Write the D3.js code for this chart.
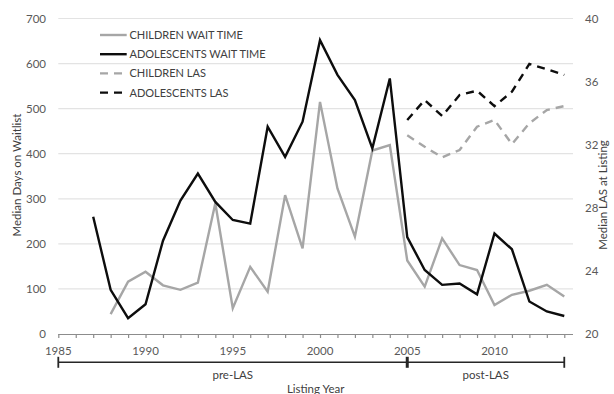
<!DOCTYPE html>
<html><head><meta charset="utf-8">
<script src="https://cdn.jsdelivr.net/npm/d3@7"></script>
<style>body{margin:0;background:#fff}svg{display:block}text{font-family:Lato,"Open Sans",sans-serif}</style>
</head><body><svg id="c" width="614" height="394"></svg>
<script>
const childWaitYears = [1988,1989,1990,1991,1992,1993,1994,1995,1996,1997,1998,1999,2000,2001,2002,2003,2004,2005,2006,2007,2008,2009,2010,2011,2012,2013,2014];
const childWait = [44,116,138,108,98,114,290,57,149,94,308,190,515,323,216,407,419,163,105,212,153,142,64,87,96,109,83];
const adolWaitYears = [1987,1988,1989,1990,1991,1992,1993,1994,1995,1996,1997,1998,1999,2000,2001,2002,2003,2004,2005,2006,2007,2008,2009,2010,2011,2012,2013,2014];
const adolWait = [260,98,35,66,207,296,356,293,253,245,460,393,471,652,575,519,412,567,215,142,109,112,88,223,188,72,50,40];
const lasYears = [2005,2006,2007,2008,2009,2010,2011,2012,2013,2014];
const childLAS = [32.6,31.87,31.2,31.66,33.14,33.57,32.04,33.36,34.2,34.45];
const adolLAS = [33.57,34.83,33.82,35.15,35.42,34.45,35.36,37.12,36.78,36.42];
const leftTicks = [0,100,200,300,400,500,600,700];
const rightTicks = [20,24,28,32,36,40];
const xTickLabels = [1985,1990,1995,2000,2005,2010];
const legendLabels = ["CHILDREN WAIT TIME","ADOLESCENTS WAIT TIME","CHILDREN LAS","ADOLESCENTS LAS"];
const periods = [{label:"pre-LAS",from:1985,to:2005},{label:"post-LAS",from:2005,to:2014}];

const svg = d3.select("#c");
const x = d3.scaleLinear().domain([1985,2014.5]).range([58.3,573]);
const yL = d3.scaleLinear().domain([0,700]).range([334,18.5]);
const yR = d3.scaleLinear().domain([20,40]).range([334,18.5]);
const gray="#a6a6a6", black="#0d0d0d", tcol="#595959";

// gridlines
svg.append("g").selectAll("line").data(leftTicks.filter(d=>d>0)).join("line")
  .attr("x1",x(1985)).attr("x2",x(2014.5)).attr("y1",d=>yL(d)).attr("y2",d=>yL(d))
  .attr("stroke","#e3e3e3").attr("stroke-width",1.2);

// left axis labels
svg.append("g").selectAll("text").data(leftTicks).join("text")
  .attr("x",46).attr("y",d=>yL(d)+4).attr("text-anchor","end")
  .attr("font-size",11.5).attr("fill",tcol).text(d=>d);
// right axis labels
svg.append("g").selectAll("text").data(rightTicks).join("text")
  .attr("x",585).attr("y",d=>yR(d)+4).attr("text-anchor","start")
  .attr("font-size",11.5).attr("fill",tcol).text(d=>d);

// x axis
const xAxis = d3.axisBottom(x).tickValues(d3.range(1985,2015)).tickSize(4).tickFormat("");
const gx = svg.append("g").attr("transform","translate(0,334)").call(xAxis);
gx.select(".domain").attr("stroke","#8c8c8c").attr("stroke-width",1.2).attr("d",`M${x(1985)},0.5H${x(2014.5)}`);
gx.selectAll(".tick line").attr("stroke","#8c8c8c").attr("stroke-width",1.2);
svg.append("g").selectAll("text").data(xTickLabels).join("text")
  .attr("x",d=>x(d)).attr("y",355).attr("text-anchor","middle")
  .attr("font-size",11.5).attr("fill",tcol).text(d=>d);

// period bracket
const by = 362.3;
const bg = svg.append("g").attr("stroke","#262626").attr("stroke-width",1.6);
bg.append("line").attr("x1",x(1985)).attr("x2",x(2014)).attr("y1",by).attr("y2",by);
[1985,2005,2014].forEach(d=>{
  bg.append("line").attr("x1",x(d)).attr("x2",x(d)).attr("y1",by-5.5).attr("y2",by+5.5)
    .attr("stroke-width",d===2005?3:1.8);
});
svg.append("g").selectAll("text").data(periods).join("text")
  .attr("x",d=>(x(d.from)+x(d.to))/2).attr("y",379).attr("text-anchor","middle")
  .attr("font-size",11.5).attr("fill","#404040").text(d=>d.label);

// axis titles
svg.append("text").attr("x",(x(1985)+x(2014.5))/2).attr("y",393).attr("text-anchor","middle")
  .attr("font-size",11.5).attr("fill","#404040").text("Listing Year");
svg.append("text").attr("transform","translate(21,175) rotate(-90)").attr("text-anchor","middle")
  .attr("font-size",11.5).attr("fill","#404040").text("Median Days on Waitlist");
svg.append("text").attr("transform","translate(607,195) rotate(-90)").attr("text-anchor","middle")
  .attr("font-size",11.5).attr("fill","#404040").text("Median LAS at Listing");

// lines
const lineL = d3.line().x(d=>x(d[0])).y(d=>yL(d[1]));
const lineR = d3.line().x(d=>x(d[0])).y(d=>yR(d[1]));
const series = [
  {data:d3.zip(childWaitYears,childWait),line:lineL,color:gray,dash:null},
  {data:d3.zip(adolWaitYears,adolWait),line:lineL,color:black,dash:null},
  {data:d3.zip(lasYears,childLAS),line:lineR,color:gray,dash:"8,6"},
  {data:d3.zip(lasYears,adolLAS),line:lineR,color:black,dash:"8,6"}
];
svg.append("g").selectAll("path").data(series).join("path")
  .attr("d",s=>s.line(s.data)).attr("fill","none").attr("stroke",s=>s.color)
  .attr("stroke-width",2.4).attr("stroke-linejoin","miter").attr("stroke-dasharray",s=>s.dash);

// legend
const lg = svg.append("g").selectAll("g").data(legendLabels).join("g")
  .attr("transform",(d,i)=>`translate(0,${35+i*19.2})`);
lg.append("line").attr("x1",100).attr("x2",126.7).attr("y1",0).attr("y2",0)
  .attr("stroke",(d,i)=>series[i].color).attr("stroke-width",2.4)
  .attr("stroke-dasharray",(d,i)=>series[i].dash);
lg.append("text").attr("x",129.5).attr("y",4).attr("font-size",11).attr("fill","#404040").text(d=>d);
</script></body></html>
